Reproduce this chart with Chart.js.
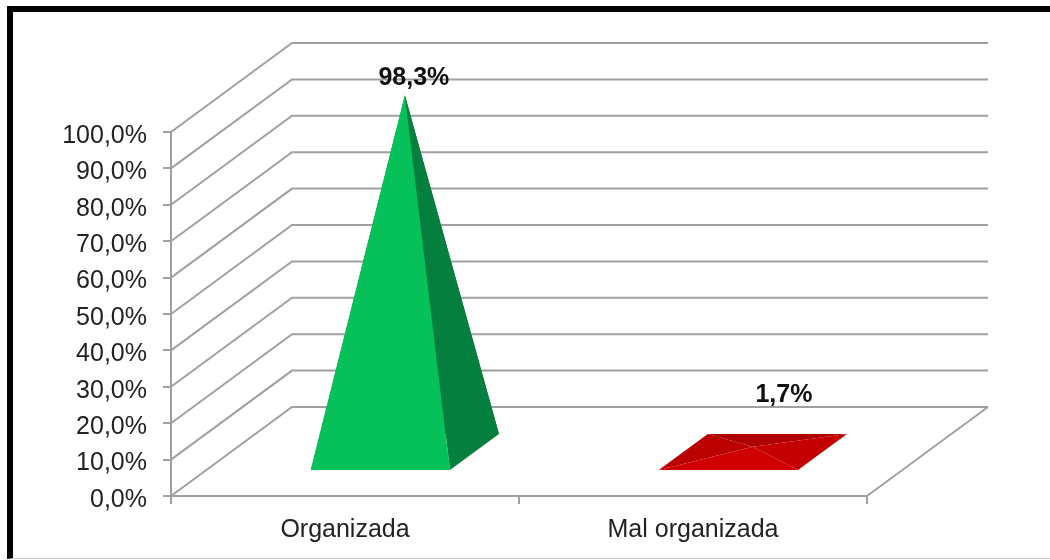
<!DOCTYPE html>
<html>
<head>
<meta charset="utf-8">
<script src="https://cdn.jsdelivr.net/npm/chart.js@4"></script>
<style>
    html, body { margin: 0; padding: 0; background: #fff; }
    #marco { position: absolute; left: 7px; top: 6px; width: 1043px; height: 546px;
             border-top: 6px solid #000; border-left: 6px solid #000; border-bottom: 1px solid #c8c8c8; }
    #grafico { position: absolute; left: 0; top: 0; filter: blur(0.4px); }
</style>
</head>
<body>
<div id="marco"></div>
<canvas id="grafico" width="1050" height="560"></canvas>
<script>
// values
var categorias = ['Organizada', 'Mal organizada'];
var valores = [98.3, 1.7];
var ticks_y = [0, 10, 20, 30, 40, 50, 60, 70, 80, 90, 100];
var colores_frente = ['#06c05a', '#cf0000'];
var colores_derecha = ['#057f3d', '#c40000'];
var colores_izquierda = ['#05a04b', '#bb0000'];
var colores_fondo = ['#04703a', '#ae0000'];

// oblique offset of the back wall
var fondo_x = 121;
var fondo_y = -89;
var gris = '#a0a0a0';
// where the base sits inside the floor depth
var base_frente = 0.28;
var base_atras = 0.685;
var corrimiento = 1.5;
// labels were moved by hand in the original
var ajuste_etiqueta = [[9, -17], [31, -52]];

function porcentaje (v) {
    return v.toFixed(1).replace('.', ',') + '%';
}

function cara (ctx, puntos, color) {
    ctx.beginPath();
    ctx.moveTo(puntos[0][0], puntos[0][1]);
    for (var i = 1; i < puntos.length; i++) {
        ctx.lineTo(puntos[i][0], puntos[i][1]);
    }
    ctx.closePath();
    ctx.fillStyle = color;
    ctx.fill();
}

var pared3d = {
    id: 'pared3d',
    beforeDatasetsDraw: function (chart) {
        var ctx = chart.ctx, x = chart.scales.x, y = chart.scales.y;
        ctx.save();
        ctx.strokeStyle = gris;
        ctx.lineWidth = 2;
        ticks_y.forEach(function (t) {
            var py = y.getPixelForValue(t);
            ctx.beginPath();
            ctx.moveTo(x.left, py);
            ctx.lineTo(x.left + fondo_x, py + fondo_y);
            ctx.lineTo(x.right + fondo_x, py + fondo_y);
            ctx.stroke();
        });
        // right side of the floor
        var p0 = y.getPixelForValue(0);
        ctx.beginPath();
        ctx.moveTo(x.right, p0);
        ctx.lineTo(x.right + fondo_x, p0 + fondo_y);
        ctx.stroke();
        ctx.restore();
    },
    afterDatasetsDraw: function (chart) {
        var ctx = chart.ctx;
        var barras = chart.getDatasetMeta(0).data;
        ctx.save();
        barras.forEach(function (b, i) {
            var m = b.width / 2;
            var bx = b.x + corrimiento;
            var fx = fondo_x * base_frente, fy = fondo_y * base_frente;
            var ax = fondo_x * base_atras, ay = fondo_y * base_atras;
            var cx = fondo_x * (base_frente + base_atras) / 2, cy = fondo_y * (base_frente + base_atras) / 2;
            var fi = [bx - m + fx, b.base + fy];
            var fd = [bx + m + fx, b.base + fy];
            var ad = [bx + m + ax, b.base + ay];
            var ai = [bx - m + ax, b.base + ay];
            var punta = [bx + cx, b.y + cy];
            cara(ctx, [ai, ad, punta], colores_fondo[i]);
            cara(ctx, [fi, ai, punta], colores_izquierda[i]);
            cara(ctx, [fd, ad, punta], colores_derecha[i]);
            cara(ctx, [fi, fd, punta], colores_frente[i]);

            ctx.fillStyle = '#111';
            ctx.font = 'bold 25px "Liberation Sans"';
            ctx.textAlign = 'center';
            ctx.textBaseline = 'middle';
            ctx.fillText(porcentaje(valores[i]), punta[0] + ajuste_etiqueta[i][0], punta[1] + ajuste_etiqueta[i][1]);
        });
        ctx.restore();
    }
};

var ctx = document.getElementById('grafico').getContext('2d');
var myChart = new Chart(ctx, {
    type: 'bar',
    data: {
        labels: categorias,
        datasets: [{
            data: valores,
            backgroundColor: 'rgba(0, 0, 0, 0)',
            borderWidth: 0,
            categoryPercentage: 1,
            barPercentage: 0.4
        }]
    },
    options: {
        responsive: false,
        animation: false,
        layout: { padding: { top: 132, right: 183, bottom: 0, left: 0 } },
        plugins: {
            legend: { display: false },
            tooltip: { enabled: false }
        },
        scales: {
            x: {
                afterFit: function (s) { s.height = 64; },
                grid: { drawOnChartArea: false, color: gris, lineWidth: 2, tickLength: 8 },
                border: { color: gris, width: 2 },
                ticks: { color: '#222', padding: 11, maxRotation: 0, font: { family: 'Liberation Sans', size: 25 } }
            },
            y: {
                min: 0,
                max: 100,
                afterFit: function (s) { s.width = 171; },
                afterBuildTicks: function (s) {
                    s.ticks = ticks_y.map(function (t) { return { value: t }; });
                },
                grid: { drawOnChartArea: false, color: gris, lineWidth: 2, tickLength: 8 },
                border: { color: gris, width: 2 },
                ticks: {
                    color: '#222',
                    padding: 16,
                    labelOffset: 4,
                    font: { family: 'Liberation Sans', size: 25 },
                    callback: function (v) { return porcentaje(v); }
                }
            }
        }
    },
    plugins: [pared3d]
});
</script>
</body>
</html>
